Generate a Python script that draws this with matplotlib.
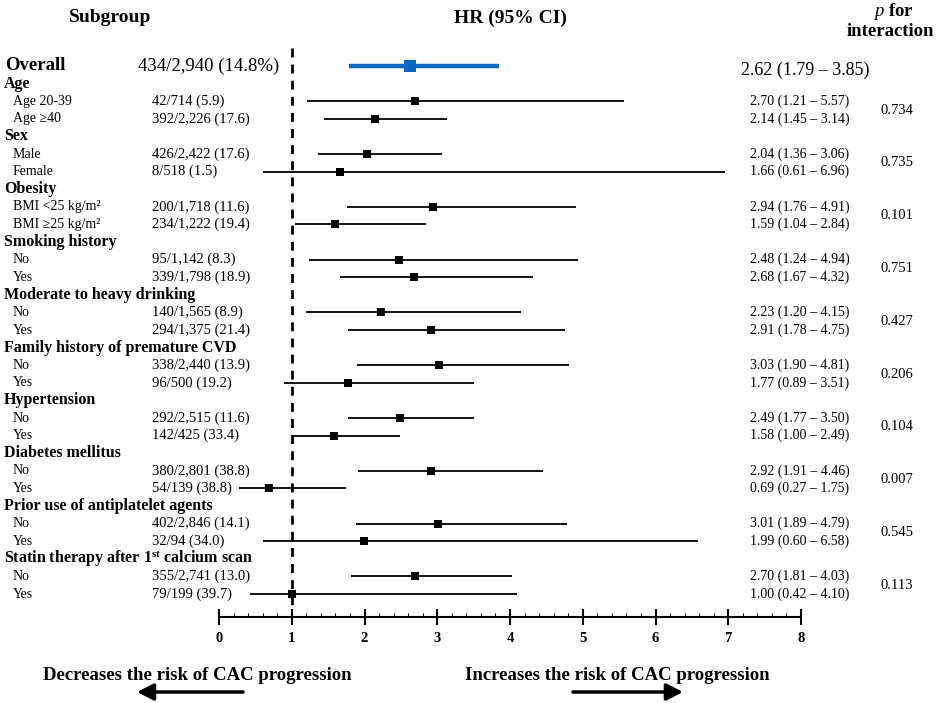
import matplotlib
matplotlib.use("Agg")
import matplotlib.pyplot as plt
from matplotlib.transforms import blended_transform_factory
from matplotlib.ticker import MultipleLocator

plt.rcParams['font.family'] = ['Liberation Serif', 'DejaVu Serif']
plt.rcParams['mathtext.fontset'] = 'custom'
plt.rcParams['mathtext.rm'] = 'Liberation Serif'
plt.rcParams['mathtext.bf'] = 'Liberation Serif:bold'
plt.rcParams['mathtext.it'] = 'Liberation Serif:italic'

# ---------------- data ----------------
overall_events = "434/2,940 (14.8%)"
overall_hr, overall_lo, overall_hi = 2.62, 1.79, 3.85

groups = ["Age", "Sex", "Obesity", "Smoking history", "Moderate to heavy drinking",
          "Family history of premature CVD", "Hypertension", "Diabetes mellitus",
          "Prior use of antiplatelet agents",
          r"Statin therapy after 1$^{\mathbf{st}}$ calcium scan"]
sub_labels = ["Age 20-39", "Age \u226540", "Male", "Female",
              "BMI <25 kg/m\u00b2", "BMI \u226525 kg/m\u00b2", "No", "Yes", "No", "Yes",
              "No", "Yes", "No", "Yes", "No", "Yes", "No", "Yes", "No", "Yes"]
events = ["42/714 (5.9)", "392/2,226 (17.6)", "426/2,422 (17.6)", "8/518 (1.5)",
          "200/1,718 (11.6)", "234/1,222 (19.4)", "95/1,142 (8.3)", "339/1,798 (18.9)",
          "140/1,565 (8.9)", "294/1,375 (21.4)", "338/2,440 (13.9)", "96/500 (19.2)",
          "292/2,515 (11.6)", "142/425 (33.4)", "380/2,801 (38.8)", "54/139 (38.8)",
          "402/2,846 (14.1)", "32/94 (34.0)", "355/2,741 (13.0)", "79/199 (39.7)"]
hr = [2.70, 2.14, 2.04, 1.66, 2.94, 1.59, 2.48, 2.68, 2.23, 2.91,
      3.03, 1.77, 2.49, 1.58, 2.92, 0.69, 3.01, 1.99, 2.70, 1.00]
lo = [1.21, 1.45, 1.36, 0.61, 1.76, 1.04, 1.24, 1.67, 1.20, 1.78,
      1.90, 0.89, 1.77, 1.00, 1.91, 0.27, 1.89, 0.60, 1.81, 0.42]
hi = [5.57, 3.14, 3.06, 6.96, 4.91, 2.84, 4.94, 4.32, 4.15, 4.75,
      4.81, 3.51, 3.50, 2.49, 4.46, 1.75, 4.79, 6.58, 4.03, 4.10]
p_int = ["0.734", "0.735", "0.101", "0.751", "0.427", "0.206", "0.104", "0.007", "0.545", "0.113"]
xticks = [0, 1, 2, 3, 4, 5, 6, 7, 8]

# ---------------- layout ----------------
W, H = 945, 703
fig = plt.figure(figsize=(W / 100, H / 100), dpi=100)

def fx(px):
    return px / W

def fy(py):
    return 1 - py / H

ROW0, STEP = 66.0, 17.6
AX_BOTTOM, AX_TOP = 617, 40
ax = fig.add_axes([fx(219), fy(AX_BOTTOM), fx(801) - fx(219), fy(AX_TOP) - fy(AX_BOTTOM)])
ax.set_xlim(0, 8)
ax.set_ylim((AX_BOTTOM - ROW0) / STEP, (AX_TOP - ROW0) / STEP)

def prow(py):
    return (py - ROW0) / STEP

tr = blended_transform_factory(fig.transFigure, ax.transData)

# reference line
ax.vlines(1, prow(48), prow(608), colors='black', linewidth=2.0, linestyles=(0, (3.2, 2.6)))

# overall
blue = '#0a66c2'
ax.plot([overall_lo, overall_hi], [0, 0], color=blue, lw=3.2, solid_capstyle='butt', zorder=3)
ax.plot([overall_hr], [0], marker='s', color=blue, markersize=9, markeredgewidth=0, zorder=4)
ax.text(fx(5), 0, "Overall", transform=tr, fontsize=13.5, fontweight='bold', va='center', ha='left')
ax.text(fx(138), 0, overall_events, transform=tr, fontsize=13.5, va='center', ha='left')
ax.text(fx(741), prow(70), f"{overall_hr:.2f} ({overall_lo:.2f} \u2013 {overall_hi:.2f})",
        transform=tr, fontsize=13, va='center', ha='left')

for g, name in enumerate(groups):
    r_head = 1 + 3 * g
    ax.text(fx(4), r_head, name, transform=tr, fontsize=11.5, fontweight='bold', va='center', ha='left')
    for k in range(2):
        i = 2 * g + k
        r = r_head + 1 + k
        ax.plot([lo[i], hi[i]], [r, r], color='black', lw=1.3, solid_capstyle='butt', zorder=3)
        ax.plot([hr[i]], [r], marker='s', color='black', markersize=5.5, markeredgewidth=0, zorder=4)
        ax.text(fx(13), r, sub_labels[i], transform=tr, fontsize=10, va='center', ha='left')
        ax.text(fx(152), r, events[i], transform=tr, fontsize=10.5, va='center', ha='left')
        ax.text(fx(750), r, f"{hr[i]:.2f} ({lo[i]:.2f} \u2013 {hi[i]:.2f})",
                transform=tr, fontsize=10, va='center', ha='left')
    ax.text(fx(897), r_head + 1.5, p_int[g], transform=tr, fontsize=10.5, va='center', ha='center')

# axis styling
for s in ['left', 'right', 'top']:
    ax.spines[s].set_visible(False)
ax.spines['bottom'].set_linewidth(1.5)
ax.set_yticks([])
ax.set_xticks(xticks)
ax.set_xticklabels([str(t) for t in xticks], fontweight='bold', fontsize=10.5)
ax.xaxis.set_minor_locator(MultipleLocator(0.2))
ax.tick_params(axis='x', which='major', direction='inout', length=11, width=1.5, pad=5)
ax.tick_params(axis='x', which='minor', direction='in', length=3, width=0.7)

# headers
fig.text(fx(110), fy(18), "Subgroup", fontsize=14, fontweight='bold', ha='center', va='center')
fig.text(fx(510), fy(18), "HR (95% CI)", fontsize=14, fontweight='bold', ha='center', va='center')
fig.text(fx(893), fy(12), r"$\mathbf{\mathit{p}}$ for", fontsize=13.5, fontweight='bold', ha='center', va='center')
fig.text(fx(890), fy(31), "interaction", fontsize=13.5, fontweight='bold', ha='center', va='center')

# bottom annotations
fig.text(fx(197), fy(676), "Decreases the risk of CAC progression", fontsize=13.5,
         fontweight='bold', ha='center', va='center')
fig.text(fx(617), fy(676), "Increases the risk of CAC progression", fontsize=13.5,
         fontweight='bold', ha='center', va='center')
arrow_style = '-|>,head_length=0.55,head_width=0.28'
ax.annotate('', xy=(137, H - 692), xytext=(243, H - 692), xycoords='figure pixels',
            textcoords='figure pixels',
            arrowprops=dict(arrowstyle=arrow_style, lw=2.5, color='black',
                            mutation_scale=18, shrinkA=0, shrinkB=0))
ax.annotate('', xy=(683, H - 692), xytext=(573, H - 692), xycoords='figure pixels',
            textcoords='figure pixels',
            arrowprops=dict(arrowstyle=arrow_style, lw=2.5, color='black',
                            mutation_scale=18, shrinkA=0, shrinkB=0))

fig.savefig("out.png", dpi=100, facecolor='white')
